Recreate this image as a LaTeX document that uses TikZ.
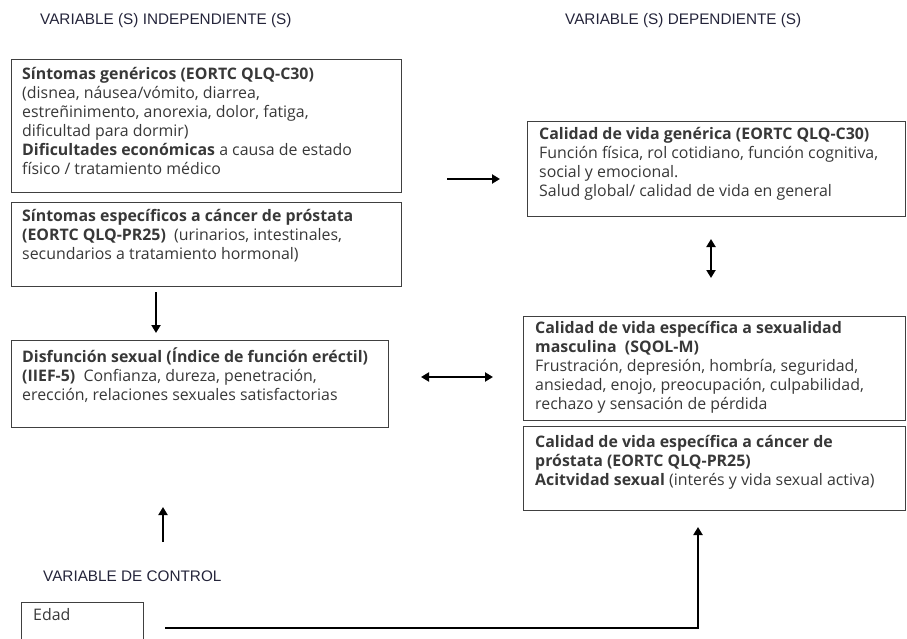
\documentclass[tikz,border=0pt]{standalone}
\usepackage{fontspec}
\setmainfont{Open Sans}
\newfontfamily\headfam{Liberation Sans}
\usetikzlibrary{arrows.meta}

\definecolor{boxline}{HTML}{404040}
\definecolor{bodytext}{HTML}{383838}
\definecolor{headtext}{HTML}{24243A}

\tikzset{
  varbox/.style={draw=boxline, line width=1.3pt, anchor=north west, inner sep=0pt},
  boxtext/.style={anchor=north west, inner sep=0pt, align=left, text=bodytext,
    font=\fontsize{15.9}{19.1}\selectfont},
  header/.style={anchor=west, inner sep=0pt, text=headtext,
    font=\headfam\fontsize{15.3}{16}\selectfont},
  flow/.style={-{Triangle[length=8pt,width=9pt]}, line width=2.3pt},
  bothflow/.style={{Triangle[length=8pt,width=9pt]}-{Triangle[length=8pt,width=9pt]}, line width=2.3pt},
}

\begin{document}
\begin{tikzpicture}[x=1pt,y=-1pt]

      \clip (0,0) rectangle (907,639);

      % headers
      \node[header] (indep) at (40,21)  {VARIABLE (S) INDEPENDIENTE (S)};
      \node[header] (dep)   at (565,21) {VARIABLE (S) DEPENDIENTE (S)};
      \node[header] (ctrl)  at (43,576) {VARIABLE DE CONTROL};

      % boxes
      \node[varbox, minimum width=390, minimum height=133] (genericos)   at (11,59)  {};
      \node[varbox, minimum width=390, minimum height=84]  (especificos) at (11,202) {};
      \node[varbox, minimum width=377, minimum height=87]  (disfuncion)  at (11,340) {};
      \node[varbox, minimum width=378, minimum height=95]  (generica)    at (527,121) {};
      \node[varbox, minimum width=382, minimum height=104] (sexualidad)  at (523,316) {};
      \node[varbox, minimum width=382, minimum height=84]  (prostata)    at (523,426) {};
      \node[varbox, minimum width=122, minimum height=60]  (edad)        at (21,602) {};

      % texts
      \node[boxtext] (genericos-t) at ([shift={(11,8)}]genericos.north west)
        {\textbf{Síntomas genéricos (EORTC QLQ-C30)}\\
         (disnea, náusea/vómito, diarrea,\\
         estreñinimento, anorexia, dolor, fatiga,\\
         dificultad para dormir)\\
         \textbf{Dificultades económicas} a causa de estado\\
         físico / tratamiento médico};
      \node[boxtext] (especificos-t) at ([shift={(11,7)}]especificos.north west)
        {\textbf{Síntomas específicos a cáncer de próstata}\\
         \textbf{(EORTC QLQ-PR25)}\ \ (urinarios, intestinales,\\
         secundarios a tratamiento hormonal)};
      \node[boxtext] (disfuncion-t) at ([shift={(11,7)}]disfuncion.north west)
        {\textbf{Disfunción sexual (Índice de función eréctil)}\\
         \textbf{(IIEF-5)}\ \ Confianza, dureza, penetración,\\
         erección, relaciones sexuales satisfactorias};
      \node[boxtext] (generica-t) at ([shift={(12,6)}]generica.north west)
        {\textbf{Calidad de vida genérica (EORTC QLQ-C30)}\\
         Función física, rol cotidiano, función cognitiva,\\
         social y emocional.\\
         Salud global/ calidad de vida en general};
      \node[boxtext] (sexualidad-t) at ([shift={(12,5)}]sexualidad.north west)
        {\textbf{Calidad de vida específica a sexualidad}\\
         \textbf{masculina\ \ (SQOL-M)}\\
         Frustración, depresión, hombría, seguridad,\\
         ansiedad, enojo, preocupación, culpabilidad,\\
         rechazo y sensación de pérdida};
      \node[boxtext] (prostata-t) at ([shift={(12,9)}]prostata.north west)
        {\textbf{Calidad de vida específica a cáncer de}\\
         \textbf{próstata (EORTC QLQ-PR25)}\\
         \textbf{Acitvidad sexual} (interés y vida sexual activa)};
      \node[boxtext] (edad-t) at ([shift={(12,6)}]edad.north west) {Edad};

      % arrow ends
      \coordinate (a2c-s) at (447,179);
      \coordinate (a2c-e) at (500,179);
      \coordinate (b2d-s) at (156,292);
      \coordinate (b2d-e) at (156,333);
      \coordinate (d2e-s) at (421,377);
      \coordinate (d2e-e) at (493,377);
      \coordinate (c2e-s) at (711,239);
      \coordinate (c2e-e) at (711,278);
      \coordinate (ctl-up-s) at (163,542);
      \coordinate (ctl-up-e) at (163,507);
      \coordinate (edad-s) at (165,628);
      \coordinate (edad-k) at (698,628);
      \coordinate (edad-e) at (698,527);

      \draw[flow] (a2c-s) -- (a2c-e);
      \draw[flow] (b2d-s) -- (b2d-e);
      \draw[bothflow] (d2e-s) -- (d2e-e);
      \draw[bothflow] (c2e-s) -- (c2e-e);
      \draw[flow] (ctl-up-s) -- (ctl-up-e);
      \draw[flow] (edad-s) -- (edad-k) -- (edad-e);

    \end{tikzpicture}
\end{document}
